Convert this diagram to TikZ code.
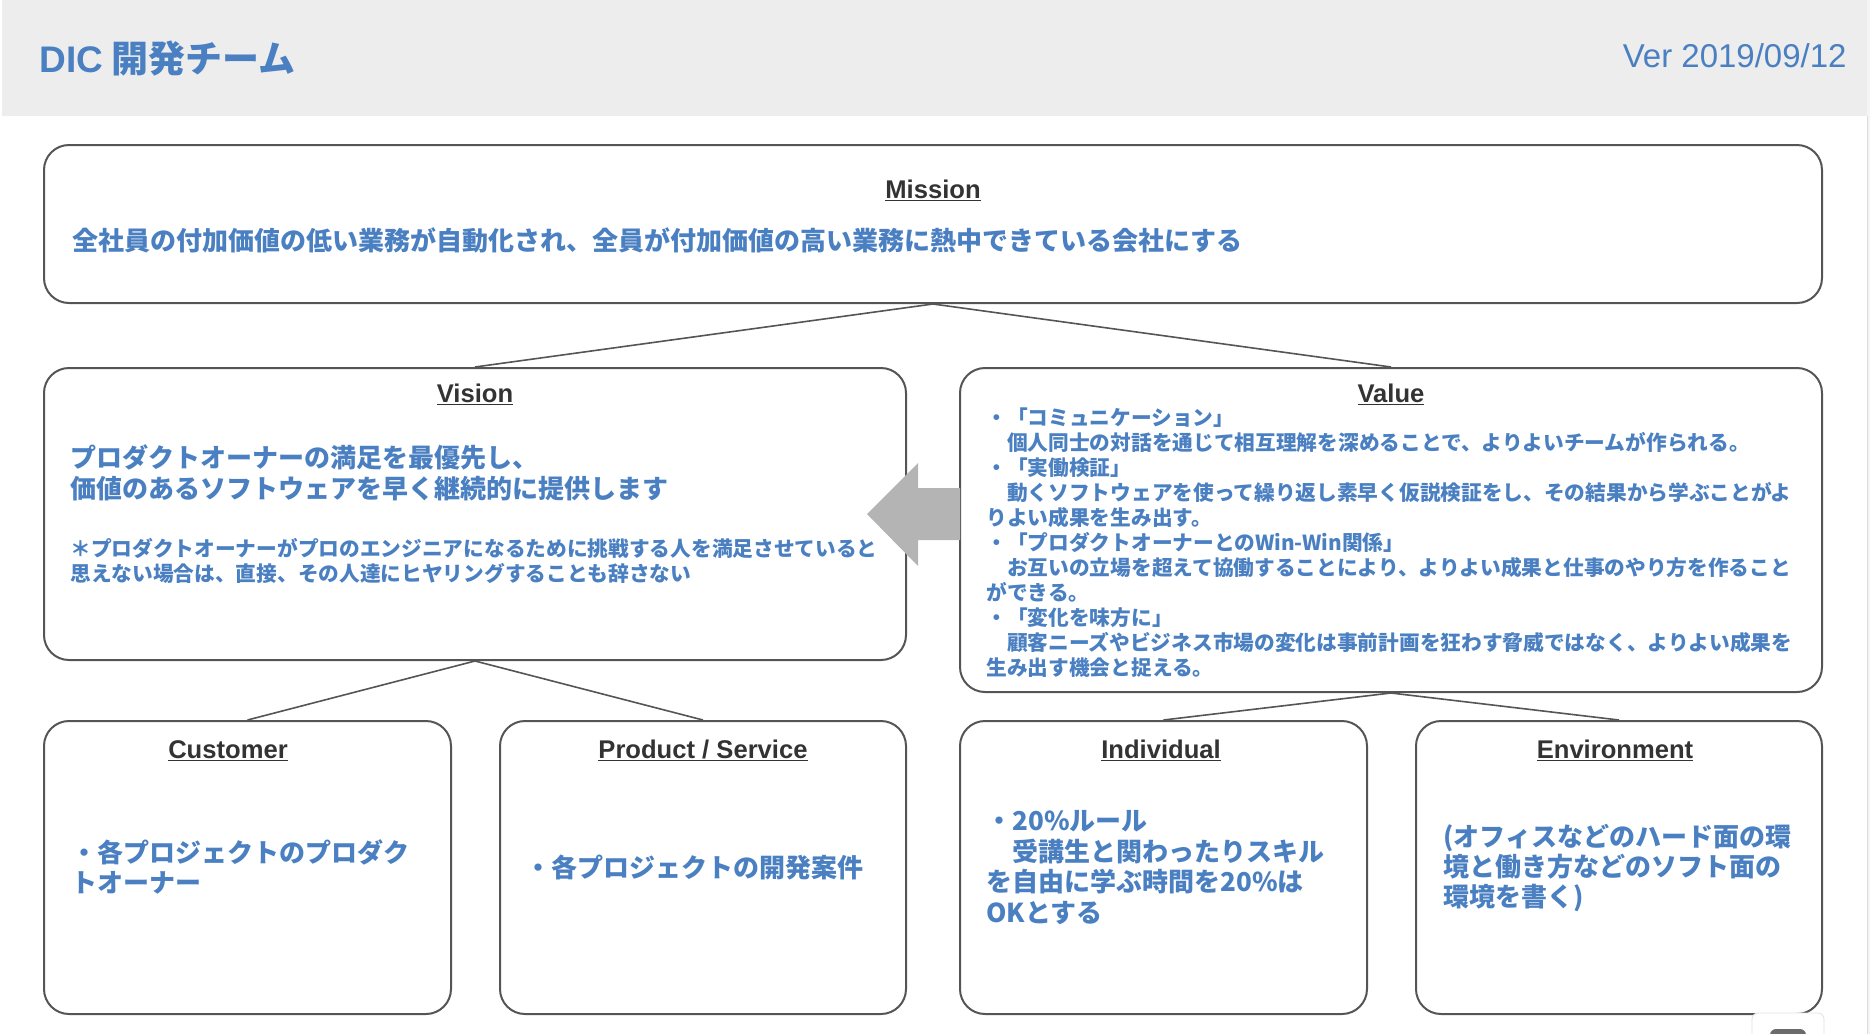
\documentclass[tikz,border=0pt]{standalone}
\usepackage{fontspec}
\setmainfont{Noto Sans CJK JP}
\newfontfamily\latinfont{Liberation Sans}
\definecolor{dicblue}{HTML}{4A80C1}
\definecolor{headgray}{HTML}{EDEDED}
\definecolor{linegray}{HTML}{555555}
\definecolor{arrowgray}{HTML}{B4B4B4}
\definecolor{textgray}{HTML}{333333}
\newsavebox\headbox
\newcommand{\ulhead}[1]{\sbox\headbox{#1}\rlap{\rule[-1.7pt]{\wd\headbox}{0.9pt}}\usebox\headbox}

\begin{document}
\begin{tikzpicture}[x=0.5pt, y=-0.5pt,
  box/.style={draw=linegray, line width=1pt, rounded corners=12.5pt, inner sep=0pt},
  conn/.style={draw=linegray, line width=0.8pt},
  head/.style={anchor=base, inner sep=0pt, text=textgray, font=\latinfont\bfseries\fontsize{12.8pt}{15pt}\selectfont},
  body/.style={anchor=west, align=left, inner sep=0pt, text=dicblue, font=\bfseries\fontsize{13pt}{15.2pt}\selectfont},
  note/.style={body, font=\bfseries\fontsize{10.35pt}{12.5pt}\selectfont}]
  \useasboundingbox (0,0) rectangle (1870,1034);

  %% ヘッダー
  \fill[headgray] (2,0) rectangle (1867,116);
  \fill[black!4] (1867,0) rectangle (1870,1034);
  \draw[black!14, line width=0.5pt] (1867,116) -- (1867,1034);
  \node[anchor=base west, inner sep=0pt, text=dicblue, font=\bfseries\fontsize{18.5pt}{22pt}\selectfont]
    (title) at (39,72) {{\latinfont DIC} 開発チーム};
  \node[anchor=base east, inner sep=0pt, text=dicblue, font=\latinfont\fontsize{16.5pt}{20pt}\selectfont]
    (ver) at (1847,67) {Ver 2019/09/12};

  %% 枠
  \node[box, minimum width=889pt, minimum height=79pt] (mission) at (933,224) {};
  \node[box, minimum width=431pt, minimum height=146pt] (vision) at (475,514) {};
  \node[box, minimum width=431pt, minimum height=162pt] (value) at (1391,530) {};
  \node[box, minimum width=203.5pt, minimum height=146.5pt] (customer) at (247.5,867.5) {};
  \node[box, minimum width=203pt, minimum height=146.5pt] (product) at (703,867.5) {};
  \node[box, minimum width=203.5pt, minimum height=146.5pt] (individual) at (1163.5,867.5) {};
  \node[box, minimum width=203pt, minimum height=146.5pt] (environment) at (1619,867.5) {};

  %% 枠をつなぐ線
  \draw[conn] (mission.south) -- (vision.north);
  \draw[conn] (mission.south) -- (value.north);
  \draw[conn] (vision.south) -- (customer.north);
  \draw[conn] (vision.south) -- (product.north);
  \draw[conn] (value.south) -- (individual.north);
  \draw[conn] (value.south) -- (environment.north);

  %% 見出し
  \node[head] (missionhd) at (933,198) {\ulhead{Mission}};
  \node[head] (visionhd) at (475,402) {\ulhead{Vision}};
  \node[head] (valuehd) at (1391,402) {\ulhead{Value}};
  \node[head] (customerhd) at (228,758) {\ulhead{Customer}};
  \node[head] (producthd) at (703,758) {\ulhead{Product / Service}};
  \node[head] (individualhd) at (1161,758) {\ulhead{Individual}};
  \node[head] (environmenthd) at (1615,758) {\ulhead{Environment}};

  %% 本文
  \node[body] (missiontxt) at (72,240)
    {全社員の付加価値の低い業務が自動化され、全員が付加価値の高い業務に熱中できている会社にする};
  \node[body] (visiontxt) at (70,473)
    {プロダクトオーナーの満足を最優先し、\\価値のあるソフトウェアを早く継続的に提供します};
  \node[note] (visionnote) at (70,560.5)
    {＊プロダクトオーナーがプロのエンジニアになるために挑戦する人を満足させていると\\思えない場合は、直接、その人達にヒヤリングすることも辞さない};
  \node[note] (valuetxt) at (986,543)
    {・「コミュニケーション」\\
     　個人同士の対話を通じて相互理解を深めることで、よりよいチームが作られる。\\
     ・「実働検証」\\
     　動くソフトウェアを使って繰り返し素早く仮説検証をし、その結果から学ぶことがよ\\
     りよい成果を生み出す。\\
     ・「プロダクトオーナーとのWin-Win関係」\\
     　お互いの立場を超えて協働することにより、よりよい成果と仕事のやり方を作ること\\
     ができる。\\
     ・「変化を味方に」\\
     　顧客ニーズやビジネス市場の変化は事前計画を狂わす脅威ではなく、よりよい成果を\\
     生み出す機会と捉える。};
  \node[body] (customertxt) at (71,867) {・各プロジェクトのプロダク\\トオーナー};
  \node[body] (producttxt) at (525,868) {・各プロジェクトの開発案件};
  \node[body] (individualtxt) at (986,867.5)
    {・20\%ルール\\　受講生と関わったりスキル\\を自由に学ぶ時間を20\%は\\OKとする};
  \node[body] (environmenttxt) at (1443,868)
    {(オフィスなどのハード面の環\\境と働き方などのソフト面の\\環境を書く)};

  %% Value から Vision への矢印
  \fill[arrowgray] (960,488) -- (918,488) -- (918,463) -- (867,514)
    -- (918,566) -- (918,540) -- (960,540) -- cycle;

  %% 右下のボタン
  \draw[black!12, fill=white, rounded corners=3pt] (1752,1013) rectangle (1824,1050);
  \fill[black!58, rounded corners=3pt] (1770,1029) rectangle (1806,1050);
\end{tikzpicture}
\end{document}
